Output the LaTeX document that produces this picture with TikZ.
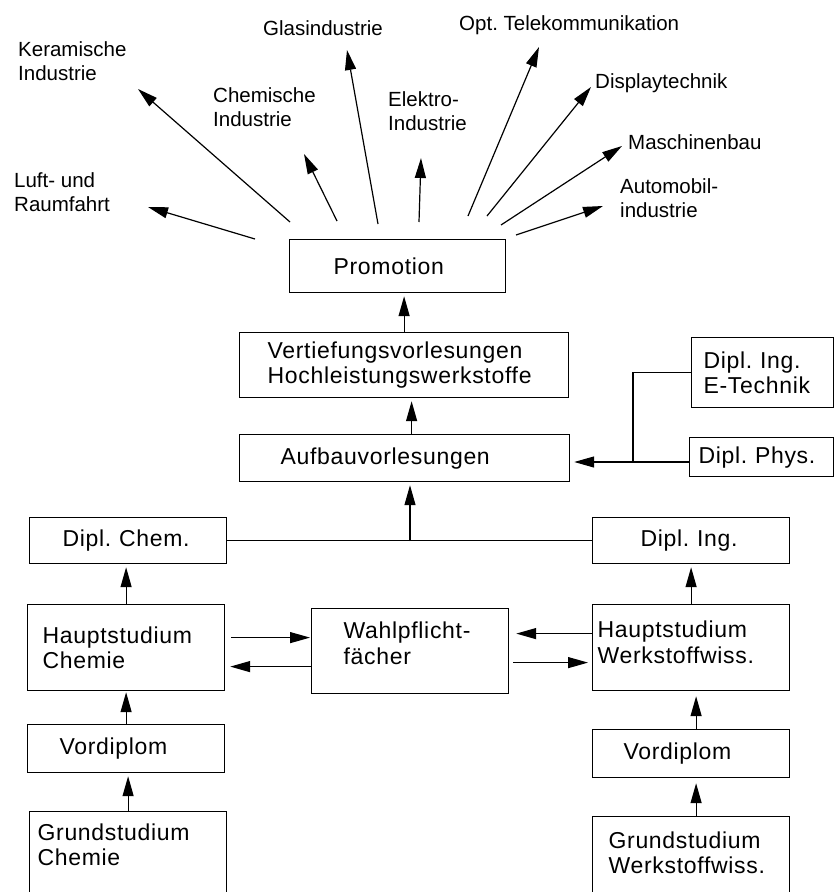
\documentclass[tikz,border=0pt]{standalone}
\usepackage{fontspec}
\setmainfont{Liberation Sans}
\newfontfamily\kastenschrift[LetterSpace=3]{Liberation Sans}
\usetikzlibrary{arrows.meta}

\tikzset{
  kasten/.style={draw, line width=1.2pt, anchor=north west, align=left, inner ysep=0pt,
    font=\kastenschrift\fontsize{23}{25.5}\selectfont},
  branche/.style={anchor=west, align=left, inner sep=0pt, font=\fontsize{20.5}{24}\selectfont},
  pfeil/.style={line width=1.2pt, -{Triangle[length=20pt,width=11pt]}},
  linie/.style={line width=1.2pt}
}

\begin{document}
\frenchspacing
\begin{tikzpicture}[x=1pt, y=-1pt]
        \useasboundingbox (0,0) rectangle (835,892);
        \clip (0,0) rectangle (835,892);

        % Draw boxes
        \node[kasten, minimum width=216pt, minimum height=53pt, inner xsep=44pt, text width=128pt] (prom) at (289,239) {Promotion};
        \node[kasten, minimum width=329pt, minimum height=65pt, inner xsep=28pt, text width=273pt] (vert) at (239,332) {Vertiefungsvorlesungen\\Hochleistungswerkstoffe};
        \node[kasten, minimum width=330pt, minimum height=47pt, inner xsep=41pt, text width=248pt] (aufb) at (239,434) {Aufbauvorlesungen};
        \node[kasten, minimum width=142pt, minimum height=70pt, inner xsep=12pt, text width=118pt] (etech) at (691,337) {Dipl. Ing.\\E-Technik};
        \node[kasten, minimum width=144pt, minimum height=39pt, inner xsep=9pt, text width=126pt] (phys) at (689,437) {Dipl. Phys.};
        \node[kasten, minimum width=197pt, minimum height=46pt, inner xsep=33pt, text width=131pt] (dchem) at (29,517) {Dipl. Chem.};
        \node[kasten, minimum width=197pt, minimum height=46pt, inner xsep=48pt, text width=101pt] (ding) at (592,517) {Dipl. Ing.};
        \node[kasten, minimum width=197pt, minimum height=86pt, inner xsep=15pt, text width=167pt] (hchem) at (27,604) {Hauptstudium\\Chemie};
        \node[kasten, minimum width=197pt, minimum height=85pt, inner xsep=32pt, text width=133pt, text depth=41pt] (wahl) at (311,608) {Wahlpflicht-\\fächer};
        \node[kasten, minimum width=197pt, minimum height=86pt, inner xsep=5pt, text width=187pt, text depth=36pt] (hwerk) at (592,604) {Hauptstudium\\Werkstoffwiss.};
        \node[kasten, minimum width=197pt, minimum height=48pt, inner xsep=32pt, text width=133pt] (vchem) at (27,724) {Vordiplom};
        \node[kasten, minimum width=197pt, minimum height=48pt, inner xsep=31pt, text width=135pt] (vwerk) at (592,729) {Vordiplom};
        \node[kasten, minimum width=197pt, inner xsep=8pt, inner ysep=12pt, text width=181pt, text depth=60pt] (gchem) at (29,811) {Grundstudium\\Chemie};
        \node[kasten, minimum width=197pt, inner xsep=16pt, inner ysep=15pt, text width=165pt, text depth=60pt] (gwerk) at (592,816) {Grundstudium\\Werkstoffwiss.};

        % Draw branches
        \node[branche] (luft) at (14,192) {Luft- und\\Raumfahrt};
        \node[branche] (kera) at (18,61) {Keramische\\Industrie};
        \node[branche] (chem) at (213,107) {Chemische\\Industrie};
        \node[branche] (glas) at (263,28) {Glasindustrie};
        \node[branche] (elek) at (388,111) {Elektro-\\Industrie};
        \node[branche] (opt) at (459,25) {Opt. Telekommunikation};
        \node[branche] (disp) at (595,83) {Displaytechnik};
        \node[branche] (masch) at (628,142) {Maschinenbau};
        \node[branche] (auto) at (620,198) {Automobil-\\industrie};

        % Arrows from Promotion to the branches
        \coordinate (s1) at (255,239); \coordinate (z1) at (148,207);
        \coordinate (s2) at (290,222); \coordinate (z2) at (138,89);
        \coordinate (s3) at (337,221); \coordinate (z3) at (304,154);
        \coordinate (s4) at (378,224); \coordinate (z4) at (347,50);
        \coordinate (s5) at (419,222); \coordinate (z5) at (421,158);
        \coordinate (s6) at (468,216); \coordinate (z6) at (539,47);
        \coordinate (s7) at (487,216); \coordinate (z7) at (591,87);
        \coordinate (s8) at (501,225); \coordinate (z8) at (622,146);
        \coordinate (s9) at (516,235); \coordinate (z9) at (603,206);
        \draw[pfeil] (s1) -- (z1);
        \draw[pfeil] (s2) -- (z2);
        \draw[pfeil] (s3) -- (z3);
        \draw[pfeil] (s4) -- (z4);
        \draw[pfeil] (s5) -- (z5);
        \draw[pfeil] (s6) -- (z6);
        \draw[pfeil] (s7) -- (z7);
        \draw[pfeil] (s8) -- (z8);
        \draw[pfeil] (s9) -- (z9);

        % Middle column
        \draw[pfeil, shorten >=3pt] (vert.north) -- (vert.north |- prom.south);
        \draw[pfeil, shorten >=3pt] ([xshift=7pt]aufb.north) -- ([xshift=7pt]aufb.north |- vert.south);
        \coordinate (mitte) at (410,541);
        \draw[linie] (dchem.east) -- (ding.west);
        \draw[pfeil, shorten >=3pt] (mitte) -- (mitte |- aufb.south);
        \coordinate (knick) at (633,462);
        \draw[linie] (etech.west) -- (etech.west -| knick) -- (knick);
        \draw[pfeil, shorten >=4pt] (phys.west |- knick) -- (knick -| aufb.east);

        % Left column
        \draw[pfeil, shorten >=3pt] (hchem.north) -- (hchem.north |- dchem.south);
        \draw[pfeil, shorten >=1pt] (vchem.north) -- (vchem.north |- hchem.south);
        \draw[pfeil, shorten >=3pt] (gchem.north) -- (gchem.north |- vchem.south);

        % Right column
        \draw[pfeil, shorten >=3pt] (hwerk.north) -- (hwerk.north |- ding.south);
        \draw[pfeil, shorten >=5pt] ([xshift=5pt]vwerk.north) -- ([xshift=5pt]vwerk.north |- hwerk.south);
        \draw[pfeil, shorten >=5pt] ([xshift=5pt]gwerk.north) -- ([xshift=5pt]gwerk.north |- vwerk.south);

        % Wahlpflichtfaecher
        \coordinate (hc1) at ([yshift=10pt]hchem.east);
        \coordinate (hc2) at ([yshift=-19pt]hchem.east);
        \coordinate (hw1) at ([yshift=14pt]hwerk.west);
        \coordinate (hw2) at ([yshift=-15pt]hwerk.west);
        \draw[pfeil, shorten <=6pt, shorten >=1pt] (hc1) -- (hc1 -| wahl.west);
        \draw[pfeil, shorten >=5pt] (hc2 -| wahl.west) -- (hc2);
        \draw[pfeil, shorten >=7pt] (hw1) -- (hw1 -| wahl.east);
        \draw[pfeil, shorten <=4pt, shorten >=4pt] (hw2 -| wahl.east) -- (hw2);
\end{tikzpicture}
\end{document}
